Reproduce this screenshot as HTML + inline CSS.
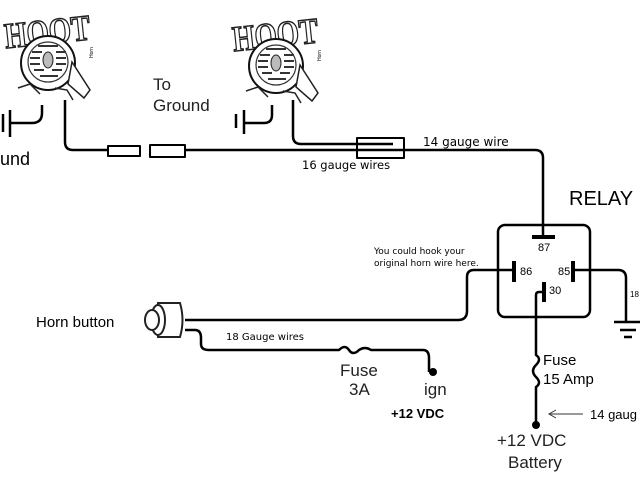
<!DOCTYPE html>
<html><head><meta charset="utf-8"><style>
html,body{margin:0;padding:0;background:#fff;}
svg{display:block;font-family:"Liberation Sans",sans-serif;}
</style></head><body>
<svg width="640" height="480" viewBox="0 0 640 480" xmlns="http://www.w3.org/2000/svg">
<rect width="640" height="480" fill="#fff"/>
<g id="horn1">
<text x="4" y="44" font-size="36" textLength="86" lengthAdjust="spacingAndGlyphs" font-weight="bold" fill="#fff" stroke="#222" stroke-width="1.5" font-family="Liberation Serif,serif" transform="rotate(-6 45 30)">HOOT</text>
<circle cx="48" cy="63" r="27" fill="#fff" stroke="#111" stroke-width="2"/>
<circle cx="48" cy="62" r="20" fill="none" stroke="#333" stroke-width="1.2"/>
<ellipse cx="48" cy="60" rx="5" ry="8" fill="#bbb" stroke="#222"/>
<path d="M32 52h10M30 58h10M30 64h10M34 70h10M56 52h10M56 58h10M56 64h10M52 70h10M38 46h20M40 76h18" stroke="#333" stroke-width="2"/>
<path d="M72 62 l18 28 l-6 8 l-16 -14z" fill="#fff" stroke="#222" stroke-width="1.5"/>
<path d="M18 88 l12 -4 l10 10 M55 88 l12 2 l6 10" fill="none" stroke="#222" stroke-width="1.5"/>
<text x="93" y="58" font-size="5" transform="rotate(-90 93 58)">Horn</text>
</g>
<g transform="translate(228,3)">
<text x="4" y="44" font-size="36" textLength="86" lengthAdjust="spacingAndGlyphs" font-weight="bold" fill="#fff" stroke="#222" stroke-width="1.5" font-family="Liberation Serif,serif" transform="rotate(-6 45 30)">HOOT</text>
<circle cx="48" cy="63" r="27" fill="#fff" stroke="#111" stroke-width="2"/>
<circle cx="48" cy="62" r="20" fill="none" stroke="#333" stroke-width="1.2"/>
<ellipse cx="48" cy="60" rx="5" ry="8" fill="#bbb" stroke="#222"/>
<path d="M32 52h10M30 58h10M30 64h10M34 70h10M56 52h10M56 58h10M56 64h10M52 70h10M38 46h20M40 76h18" stroke="#333" stroke-width="2"/>
<path d="M72 62 l18 28 l-6 8 l-16 -14z" fill="#fff" stroke="#222" stroke-width="1.5"/>
<path d="M18 88 l12 -4 l10 10 M55 88 l12 2 l6 10" fill="none" stroke="#222" stroke-width="1.5"/>
<text x="93" y="58" font-size="5" transform="rotate(-90 93 58)">Horn</text>
</g>
<g fill="none" stroke="#000" stroke-width="2.5" stroke-linejoin="round">
<path d="M3 114v18M10 110v27M10 123h22q10 0 10 -10v-8"/>
<path d="M236 114v14M244 110v24M244 123h20q8 0 8 -8v-10"/>
<path d="M65 100v42q0 8 8 8h35"/>
<rect x="108" y="146" width="32" height="10" stroke-width="2"/>
<rect x="150" y="145" width="35" height="12" stroke-width="2"/>
<path d="M185 150h350q8 0 8 8v79"/>
<path d="M293 100v36q0 8 8 8h92"/>
<rect x="357" y="138" width="47" height="20" stroke-width="2"/>
<rect x="498" y="225" width="92" height="92" rx="7"/>
<path d="M532 237h23" stroke-width="4"/>
<path d="M514 261v21M573 261v21M544 282v20" stroke-width="4"/>
<path d="M514 270h-40q-7 0 -7 7v34q0 9 -9 9h-273"/>
<path d="M573 270h45q8 0 8 8v44"/>
<path d="M614 322h26M620 330h16M624 337h8"/>
<path d="M544 292h-5q-3 0 -3 3v60q6 4 0 10q-6 6 0 12q6 6 0 10v38"/>
<path d="M185 330h10q6 0 6 8v6q0 6 8 6h130q6 -6 10 0q4 6 10 0q6 -4 12 0h52q6 0 6 8v14"/>
</g>
<circle cx="536" cy="425" r="4"/>
<circle cx="433" cy="372" r="4"/>
<path d="M583 414H549M556 410l-7 4 7 4" fill="none" stroke="#333" stroke-width="1"/>
<g fill="#fff" stroke="#222" stroke-width="2">
<path d="M158 303h22q5 17 0 34h-22z"/>
<ellipse cx="158" cy="320" rx="7" ry="15"/>
<ellipse cx="152" cy="320" rx="7" ry="10"/>
</g>
<g fill="#000">
<text x="0" y="165" font-size="18">und</text>
<text x="153" y="90" font-size="17" fill="#222">To</text>
<text x="153" y="111" font-size="17" fill="#222">Ground</text>
<text x="423" y="146" font-size="12" font-family="DejaVu Sans,sans-serif">14 gauge wire</text>
<text x="302" y="169" font-size="11.5" font-family="DejaVu Sans,sans-serif">16 gauge wires</text>
<text x="569" y="205" font-size="20">RELAY</text>
<text x="538" y="251" font-size="11">87</text>
<text x="520" y="275" font-size="11">86</text>
<text x="558" y="275" font-size="11">85</text>
<text x="549" y="294" font-size="11">30</text>
<text x="374" y="254" font-size="9" font-family="DejaVu Sans,sans-serif">You could hook your</text>
<text x="374" y="266" font-size="9" font-family="DejaVu Sans,sans-serif">original horn wire here.</text>
<text x="630" y="297" font-size="8">18</text>
<text x="36" y="327" font-size="15">Horn button</text>
<text x="226" y="340" font-size="10" font-family="DejaVu Sans,sans-serif">18 Gauge wires</text>
<text x="340" y="376" font-size="17" fill="#222">Fuse</text>
<text x="349" y="395" font-size="17" fill="#222">3A</text>
<text x="424" y="395" font-size="17" fill="#222">ign</text>
<text x="391" y="418" font-size="13" font-weight="bold">+12 VDC</text>
<text x="543" y="365" font-size="15">Fuse</text>
<text x="543" y="384" font-size="15">15 Amp</text>
<text x="590" y="419" font-size="13">14 gaug</text>
<text x="497" y="446" font-size="17" fill="#222">+12 VDC</text>
<text x="508" y="468" font-size="17" fill="#222">Battery</text>
</g>
</svg>
</body></html>
